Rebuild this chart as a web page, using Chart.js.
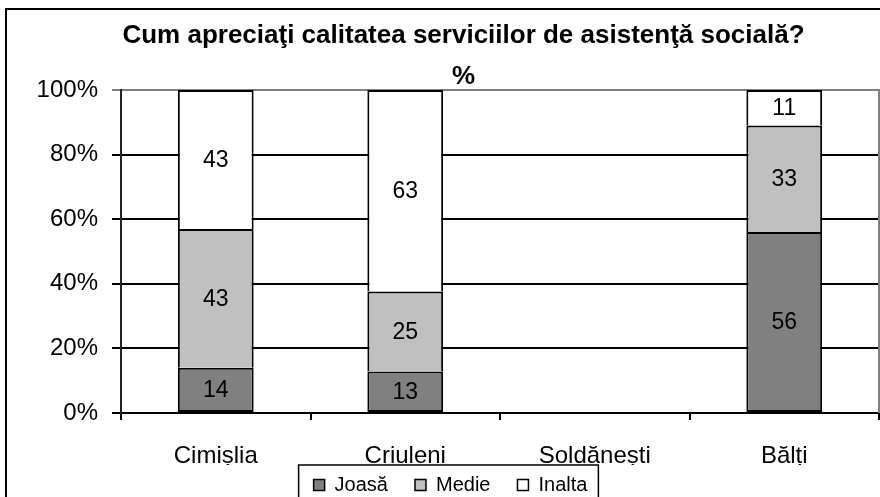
<!DOCTYPE html>
<html>
<head>
<meta charset="utf-8">
<script src="https://cdn.jsdelivr.net/npm/chart.js@4/dist/chart.umd.min.js"></script>
<style>
  html, body { margin: 0; padding: 0; background: #fff; }
  #wrap { width: 880px; height: 497px; position: relative; }
</style>
</head>
<body>
<div id="wrap"><canvas id="grafic"></canvas></div>
<script>
// date (valori in %)
const categorii = ['Cimișlia', 'Criuleni', 'Soldănești', 'Bălți'];
const joasa = [14, 13, null, 56];
const medie = [43, 25, null, 33];
const inalta = [43, 63, null, 11];
const serii = ['Joasă', 'Medie', 'Inalta'];
const culori = ['#808080', '#c0c0c0', '#ffffff'];
const titlu = ['Cum apreciaţi calitatea serviciilor de asistenţă socială?', '%'];

const FONT = "'Liberation Sans', Arial, sans-serif";
const LEG_PAD = 27;

// 100% stacked: fiecare coloana normalizata la suma ei
const totaluri = categorii.map((_, i) => (joasa[i] || 0) + (medie[i] || 0) + (inalta[i] || 0));
const procent = arr => arr.map((v, i) => v == null ? null : v / totaluri[i] * 100);
const valori = [joasa, medie, inalta];

const layoutFix = {
    id: 'layoutFix',
    beforeInit(chart) {
        const updTitle = chart.titleBlock.update;
        chart.titleBlock.update = function (w, h, m) {
            updTitle.call(this, w, h, m);
            this.height = 90;
        };
        const fitLegend = chart.legend.fit;
        chart.legend.fit = function () {
            fitLegend.bind(chart.legend)();
            this.height = 32;
        };
    },
    afterLayout(chart) {
        chart.titleBlock.left += 24;
        chart.titleBlock.right += 24;
        const lg = chart.legend;
        lg.left += 11;
        lg.right += 11;
        lg.top = 475 - LEG_PAD;
    },
    beforeDraw(chart) {
        const ctx = chart.ctx;
        ctx.save();
        ctx.fillStyle = '#fff';
        ctx.fillRect(0, 0, chart.width, chart.height);
        ctx.restore();
    },
    afterDraw(chart) {
        const ctx = chart.ctx;
        const a = chart.chartArea;
        ctx.save();
        // chenarul exterior
        ctx.strokeStyle = '#000';
        ctx.lineWidth = 2;
        ctx.strokeRect(6, 9, 1000, 1000);
        // marginea dreapta a zonei de desen
        ctx.strokeStyle = '#808080';
        ctx.beginPath();
        ctx.moveTo(a.right, a.top - 1);
        ctx.lineTo(a.right, a.bottom);
        ctx.stroke();
        // chenarul legendei
        const hb = chart.legend.legendHitBoxes;
        if (hb && hb.length) {
            const st = Math.min(...hb.map(b => b.left)) - 15;
            const dr = Math.max(...hb.map(b => b.left + b.width)) + 11;
            ctx.strokeStyle = '#000';
            ctx.lineWidth = 1.5;
            ctx.strokeRect(st, 465, dr - st, 60);
        }
        ctx.restore();
    }
};

const etichete = {
    id: 'etichete',
    afterDatasetsDraw(chart) {
        const ctx = chart.ctx;
        ctx.save();
        ctx.font = '23px ' + FONT;
        ctx.fillStyle = '#000';
        ctx.textAlign = 'center';
        ctx.textBaseline = 'middle';
        chart.data.datasets.forEach((ds, i) => {
            chart.getDatasetMeta(i).data.forEach((bar, j) => {
                const v = valori[i][j];
                if (v == null) return;
                ctx.fillText(String(v), bar.x, (bar.y + bar.base) / 2 + 1);
            });
        });
        ctx.restore();
    }
};

const ctx = document.getElementById('grafic').getContext('2d');
new Chart(ctx, {
    type: 'bar',
    data: {
        labels: categorii,
        datasets: valori.map((arr, i) => ({
            label: serii[i],
            data: procent(arr),
            backgroundColor: culori[i],
            borderColor: '#000',
            // linia dintre segmente o deseneaza doar segmentul de jos
            borderWidth: {
                left: 2,
                right: 2,
                top: 2,
                bottom: i === 0 ? 2 : 0
            },
            borderSkipped: false,
            categoryPercentage: 1,
            barPercentage: 0.4
        }))
    },
    options: {
        responsive: true,
        maintainAspectRatio: false,
        animation: false,
        devicePixelRatio: 1,
        layout: { padding: { left: 0, right: 1, top: 0, bottom: 0 } },
        plugins: {
            title: {
                display: true,
                text: titlu,
                color: '#000',
                font: { family: FONT, size: 26, weight: 'bold', lineHeight: 1.55 },
                padding: { top: 16, bottom: 0 }
            },
            legend: {
                position: 'bottom',
                labels: {
                    color: '#000',
                    font: { family: FONT, size: 20 },
                    boxWidth: 11,
                    boxHeight: 11,
                    padding: LEG_PAD,
                    generateLabels(chart) {
                        return chart.data.datasets.map((ds, i) => ({
                            text: ds.label,
                            fillStyle: ds.backgroundColor,
                            strokeStyle: '#000',
                            lineWidth: 1.5,
                            fontColor: '#000',
                            hidden: false,
                            datasetIndex: i
                        }));
                    }
                }
            },
            tooltip: { enabled: false }
        },
        scales: {
            x: {
                stacked: true,
                afterFit(scale) { scale.height = 52; },
                grid: {
                    offset: true,
                    drawOnChartArea: false,
                    drawTicks: true,
                    tickLength: 7,
                    color: '#000',
                    lineWidth: 2
                },
                border: { color: '#000', width: 2 },
                ticks: {
                    color: '#000',
                    font: { family: FONT, size: 24 },
                    padding: 22,
                    maxRotation: 0,
                    autoSkip: false
                }
            },
            y: {
                stacked: true,
                min: 0,
                max: 100,
                afterFit(scale) { scale.width = 121; },
                grid: {
                    color: c => c.tick && c.tick.value === 100 ? '#808080' : '#000',
                    lineWidth: 2,
                    tickLength: 9
                },
                border: { color: '#222', width: 2 },
                ticks: {
                    stepSize: 20,
                    color: '#000',
                    padding: 14,
                    font: { family: FONT, size: 24 },
                    callback: v => v + '%'
                }
            }
        }
    },
    plugins: [layoutFix, etichete]
});
</script>
</body>
</html>
